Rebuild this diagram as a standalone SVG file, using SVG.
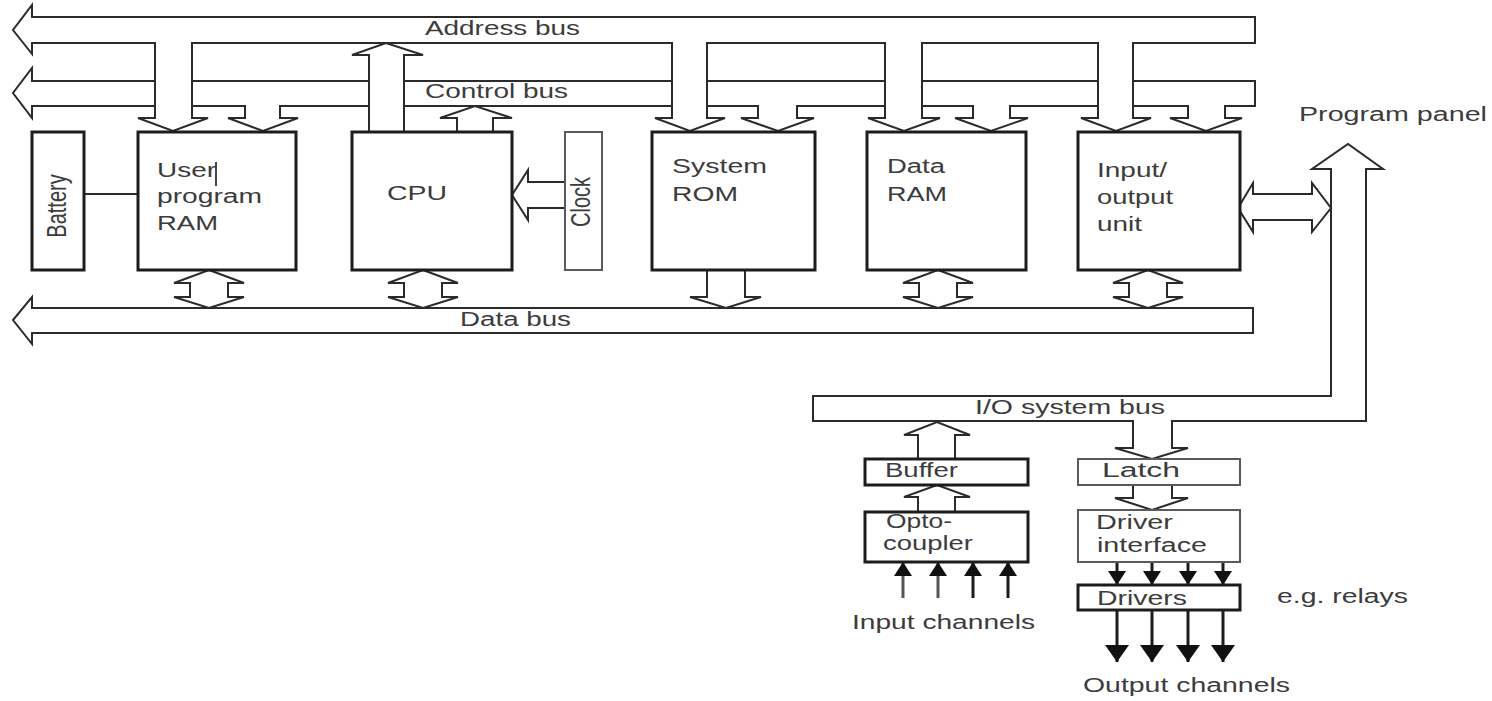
<svg xmlns="http://www.w3.org/2000/svg" width="1492" height="701" viewBox="0 0 1492 701">
<style>
.box{fill:#fff;stroke:#1c1c1c;stroke-width:3}
.lite{fill:#fff;stroke:#5a5a5a;stroke-width:2}
.bus{fill:none;stroke:#2b2b2b;stroke-width:2;stroke-linejoin:miter}
.ln{fill:none;stroke:#1c1c1c;stroke-width:3}
.lbl{font-family:"Liberation Sans",Arial,sans-serif;font-size:20px;fill:#3c3c3c}
</style>
<defs>
<marker id="triS" markerUnits="userSpaceOnUse" viewBox="0 0 14 18" refX="14" refY="9" markerWidth="14" markerHeight="18" orient="auto"><path d="M0,0 L14,9 L0,18 Z" fill="#111"/></marker>
<marker id="triL" markerUnits="userSpaceOnUse" viewBox="0 0 17 24" refX="17" refY="12" markerWidth="17" markerHeight="24" orient="auto"><path d="M0,0 L17,12 L0,24 Z" fill="#111"/></marker>
</defs>
<rect width="1492" height="701" fill="#fff"/>

<g id="connectors">
  <!-- Address bus with stems to modules -->
  <path class="bus" d="M32,17 L32,5 L13,30 L32,54 L32,43 L155,43 L155,118 L138,118 L173,131 L208,118 L192,118 L192,43 L672,43 L672,118 L655,118 L690,131 L725,118 L707,118 L707,43 L885,43 L885,118 L868,118 L904,131 L940,118 L922,118 L922,43 L1098,43 L1098,118 L1081,118 L1116,131 L1151,118 L1133,118 L1133,43 L1255,43 L1255,17 Z"/>
  <!-- Control bus with stems to modules -->
  <path class="bus" d="M155,81 L32,81 L32,68 L13,93 L32,118 L32,106 L155,106 M192,81 L369,81 M404,81 L672,81 M707,81 L885,81 M922,81 L1098,81 M1133,81 L1255,81 L1255,106 L1225,106 L1225,118 L1242,118 L1206,131 L1170,118 L1188,118 L1188,106 L1133,106 M1098,106 L1010,106 L1010,118 L1028,118 L991,131 L955,118 L973,118 L973,106 L922,106 M885,106 L797,106 L797,118 L814,118 L778,131 L741,118 L758,118 L758,106 L707,106 M672,106 L404,106 M369,106 L280,106 L280,118 L298,118 L263,131 L228,118 L245,118 L245,106 L192,106"/>
  <!-- CPU to address bus -->
  <path class="bus" d="M369,132 L369,55 L352,55 L386,43 L423,55 L404,55 L404,132"/>
  <!-- CPU to control bus -->
  <path class="bus" d="M457,132 L457,118 L440,118 L475,106 L512,118 L493,118 L493,132"/>
  <!-- Clock to CPU -->
  <path class="bus" d="M565,182 L528,182 L528,170 L512,195 L528,220 L528,208 L565,208"/>
  <!-- Data bus -->
  <path class="bus" d="M32,308 L32,297 L13,320 L32,344 L32,333 L1253,333 L1253,308 Z"/>
  <!-- Double arrows to data bus -->
  <path class="bus" d="M209,270 L244,283 L228,283 L228,297 L244,297 L209,308 L174,297 L190,297 L190,283 L174,283 Z"/>
  <path class="bus" d="M423,270 L458,283 L442,283 L442,297 L458,297 L423,308 L388,297 L404,297 L404,283 L388,283 Z"/>
  <path class="bus" d="M938,270 L973,283 L957,283 L957,297 L973,297 L938,308 L903,297 L919,297 L919,283 L903,283 Z"/>
  <path class="bus" d="M1148,270 L1183,283 L1167,283 L1167,297 L1183,297 L1148,308 L1113,297 L1129,297 L1129,283 L1113,283 Z"/>
  <!-- ROM to data bus -->
  <path class="bus" d="M707,270 L707,297 L690,297 L726,308 L761,297 L745,297 L745,270"/>
  <!-- Battery to User RAM -->
  <path class="bus" d="M84,194 L138,194"/>
  <!-- I/O unit to program panel -->
  <path class="bus" d="M1238,208 L1253,183 L1253,194 L1312,194 L1312,183 L1331,208 L1312,232 L1312,220 L1253,220 L1253,232 Z"/>
  <!-- Program panel bus and I/O system bus -->
  <path class="bus" d="M1331,169 L1312,169 L1348,144 L1383,169 L1366,169 L1366,421 L1172,421 L1172,448 L1188,448 L1152,459 L1115,448 L1133,448 L1133,421 L813,421 L813,396 L1331,396 Z"/>
  <!-- Buffer to I/O bus -->
  <path class="bus" d="M918,459 L918,435 L904,435 L937,422 L970,435 L955,435 L955,459"/>
  <!-- Opto-coupler to Buffer -->
  <path class="bus" d="M918,512 L918,497 L904,497 L937,485 L970,497 L955,497 L955,512"/>
  <!-- Latch to Driver interface -->
  <path class="bus" d="M1133,485 L1133,498 L1115,498 L1152,510 L1188,498 L1172,498 L1172,485"/>
  <!-- Input channels -->
  <g class="ln" marker-end="url(#triS)">
    <path d="M903,598 L903,562" stroke="#555"/>
    <path d="M938,598 L938,562" stroke="#555"/>
    <path d="M973,598 L973,562"/>
    <path d="M1008,598 L1008,562"/>
  </g>
  <!-- Driver interface to Drivers -->
  <g class="ln" marker-end="url(#triS)">
    <path d="M1117,562 L1117,585"/>
    <path d="M1152,562 L1152,585"/>
    <path d="M1188,562 L1188,585"/>
    <path d="M1223,562 L1223,585"/>
  </g>
  <!-- Output channels -->
  <g class="ln" marker-end="url(#triL)">
    <path d="M1117,610 L1117,662"/>
    <path d="M1152,610 L1152,662"/>
    <path d="M1188,610 L1188,662"/>
    <path d="M1223,610 L1223,662"/>
  </g>
  <text class="lbl" x="425" y="35" textLength="155" lengthAdjust="spacingAndGlyphs">Address bus</text>
  <text class="lbl" x="425" y="98" textLength="143" lengthAdjust="spacingAndGlyphs">Control bus</text>
  <text class="lbl" x="460" y="326" textLength="111" lengthAdjust="spacingAndGlyphs">Data bus</text>
  <text class="lbl" x="975" y="414" textLength="190" lengthAdjust="spacingAndGlyphs">I/O system bus</text>
  <text class="lbl" x="1299" y="121" textLength="188" lengthAdjust="spacingAndGlyphs">Program panel</text>
  <text class="lbl" x="852" y="629" textLength="183" lengthAdjust="spacingAndGlyphs">Input channels</text>
  <text class="lbl" x="1083" y="692" textLength="207" lengthAdjust="spacingAndGlyphs">Output channels</text>
  <text class="lbl" x="1277" y="603" textLength="131" lengthAdjust="spacingAndGlyphs">e.g. relays</text>
</g>

<g id="battery">
  <rect class="box" x="32" y="132" width="52" height="138"/>
  <text class="lbl" text-anchor="middle" transform="translate(66,206) scale(1.4,1) rotate(-90)">Battery</text>
</g>
<g id="user-ram">
  <rect class="box" x="138" y="132" width="158" height="138"/>
  <text class="lbl" x="157" y="177" textLength="59" lengthAdjust="spacingAndGlyphs">User</text>
  <path d="M216,162 L216,186" stroke="#444" stroke-width="2"/>
  <text class="lbl" x="157" y="203" textLength="105" lengthAdjust="spacingAndGlyphs">program</text>
  <text class="lbl" x="157" y="230" textLength="61" lengthAdjust="spacingAndGlyphs">RAM</text>
</g>
<g id="cpu">
  <rect class="box" x="352" y="132" width="160" height="138"/>
  <text class="lbl" x="387" y="200" textLength="60" lengthAdjust="spacingAndGlyphs">CPU</text>
</g>
<g id="clock">
  <rect class="lite" x="565" y="132" width="37" height="138"/>
  <text class="lbl" text-anchor="middle" transform="translate(590,202) scale(1.4,1) rotate(-90)">Clock</text>
</g>
<g id="system-rom">
  <rect class="box" x="652" y="132" width="163" height="138"/>
  <text class="lbl" x="672" y="173" textLength="95" lengthAdjust="spacingAndGlyphs">System</text>
  <text class="lbl" x="672" y="201" textLength="66" lengthAdjust="spacingAndGlyphs">ROM</text>
</g>
<g id="data-ram">
  <rect class="box" x="867" y="132" width="159" height="138"/>
  <text class="lbl" x="887" y="173" textLength="58" lengthAdjust="spacingAndGlyphs">Data</text>
  <text class="lbl" x="887" y="201" textLength="60" lengthAdjust="spacingAndGlyphs">RAM</text>
</g>
<g id="io-unit">
  <rect class="box" x="1078" y="132" width="162" height="138"/>
  <text class="lbl" x="1097" y="177" textLength="70" lengthAdjust="spacingAndGlyphs">Input/</text>
  <text class="lbl" x="1097" y="204" textLength="76" lengthAdjust="spacingAndGlyphs">output</text>
  <text class="lbl" x="1097" y="231" textLength="45" lengthAdjust="spacingAndGlyphs">unit</text>
</g>
<g id="buffer">
  <rect class="box" x="865" y="459" width="163" height="26"/>
  <text class="lbl" x="885" y="477" textLength="73" lengthAdjust="spacingAndGlyphs">Buffer</text>
</g>
<g id="opto-coupler">
  <rect class="box" x="865" y="512" width="163" height="50"/>
  <text class="lbl" x="886" y="528" textLength="66" lengthAdjust="spacingAndGlyphs">Opto-</text>
  <text class="lbl" x="883" y="550" textLength="90" lengthAdjust="spacingAndGlyphs">coupler</text>
</g>
<g id="latch">
  <rect class="lite" x="1078" y="459" width="162" height="26"/>
  <text class="lbl" x="1102" y="477" textLength="78" lengthAdjust="spacingAndGlyphs">Latch</text>
</g>
<g id="driver-interface">
  <rect class="lite" x="1078" y="510" width="162" height="52"/>
  <text class="lbl" x="1096" y="529" textLength="77" lengthAdjust="spacingAndGlyphs">Driver</text>
  <text class="lbl" x="1097" y="552" textLength="110" lengthAdjust="spacingAndGlyphs">interface</text>
</g>
<g id="drivers">
  <rect class="box" x="1078" y="585" width="162" height="25"/>
  <text class="lbl" x="1097" y="605" textLength="90" lengthAdjust="spacingAndGlyphs">Drivers</text>
</g>
</svg>
